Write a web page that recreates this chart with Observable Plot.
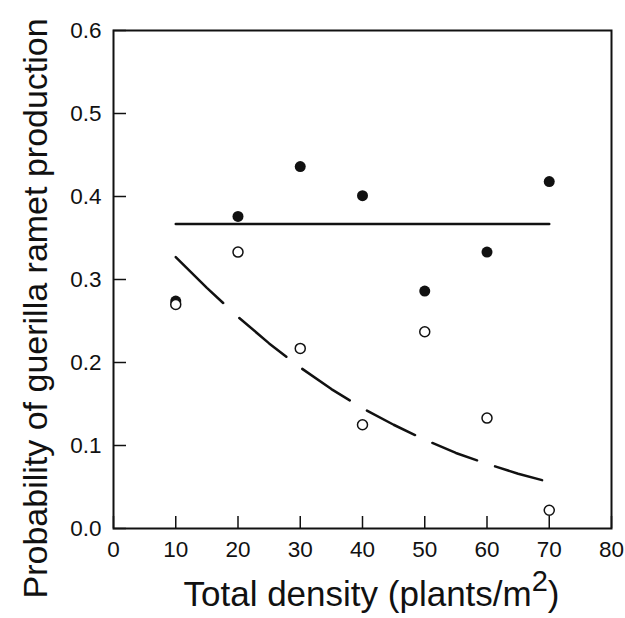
<!DOCTYPE html>
<html>
<head>
<meta charset="utf-8">
<script src="https://cdn.jsdelivr.net/npm/d3@7"></script>
<script src="https://cdn.jsdelivr.net/npm/@observablehq/plot@0.6"></script>
<style>
  html, body { margin: 0; padding: 0; background: white; }
</style>
</head>
<body>
<div id="chart"></div>
<script>
// ---- data ----
const xTicks = [0, 10, 20, 30, 40, 50, 60, 70, 80];
const yTicks = [0, 0.1, 0.2, 0.3, 0.4, 0.5, 0.6];

const density = [10, 20, 30, 40, 50, 60, 70];
const filledProb = [0.274, 0.376, 0.436, 0.401, 0.286, 0.333, 0.418];
const openProb   = [0.270, 0.333, 0.217, 0.125, 0.237, 0.133, 0.022];

const flatX = [10, 70];
const flatY = [0.367, 0.367];

const curveX = [10, 15, 20, 25, 30, 35, 40, 45, 50, 55, 60, 65, 70];
const curveY = [0.327, 0.290, 0.255, 0.223, 0.194, 0.168, 0.145, 0.125, 0.107, 0.091, 0.078, 0.066, 0.056];

const xLabelMain = "Total density (plants/m";
const xLabelSup = "2";
const xLabelEnd = ")";
const yLabel = "Probability of guerilla ramet production";

// ---- tables ----
const filled = density.map((d, i) => ({x: d, y: filledProb[i]}));
const open = density.map((d, i) => ({x: d, y: openProb[i]}));
const flat = flatX.map((d, i) => ({x: d, y: flatY[i]}));
const curve = curveX.map((d, i) => ({x: d, y: curveY[i]}));

const ink = "#111";
const yFmt = d3.format(".1f");

const chart = Plot.plot({
  width: 625,
  height: 618,
  marginLeft: 113,
  marginRight: 14,
  marginTop: 30,
  marginBottom: 90,
  x: {domain: [0, 80]},
  y: {domain: [0, 0.6]},
  style: {fontFamily: "'Liberation Sans', Arial, Helvetica, sans-serif", fontSize: "22px", color: ink, background: "white"},
  marks: [
    Plot.axisX({ticks: xTicks, tickSize: 0, tickPadding: 13, label: null}),
    Plot.axisY({ticks: yTicks, tickSize: 0, tickPadding: 12, tickFormat: yFmt, label: null}),
    Plot.tickX(xTicks, {x: d => d, insetTop: 486, stroke: ink, strokeWidth: 1.5}),
    Plot.tickY(yTicks, {y: d => d, insetRight: 485, stroke: ink, strokeWidth: 1.5}),
    Plot.frame({stroke: ink, strokeWidth: 2}),
    Plot.line(curve, {x: "x", y: "y", stroke: ink, strokeWidth: 2.5,
      strokeDasharray: "66,22,61,20,57,20,54,19,48,19,49,20"}),
    Plot.line(flat, {x: "x", y: "y", stroke: ink, strokeWidth: 2.5}),
    Plot.dot(filled, {x: "x", y: "y", r: 5.5, fill: ink, stroke: "none"}),
    Plot.dot(open, {x: "x", y: "y", r: 5, fill: "white", stroke: ink, strokeWidth: 1.5}),
    Plot.text([xLabelMain + xLabelSup + xLabelEnd], {frameAnchor: "bottom-left", dx: 70, dy: 77,
      textAnchor: "start", lineAnchor: "bottom", fontSize: 35, fill: ink}),
    Plot.text([yLabel], {frameAnchor: "bottom-left", dx: -67, dy: 70, rotate: -90,
      textAnchor: "start", lineAnchor: "bottom", fontSize: 34, fill: ink})
  ]
});

const tickLabelSet = new Set([...xTicks.map(String), ...yTicks.map(yFmt)]);
d3.select(chart).selectAll("text").each(function() {
  const s = this.textContent;
  if (tickLabelSet.has(s)) {
    d3.select(this).style("font-size", "22.5px");
  }
  if (s === xLabelMain + xLabelSup + xLabelEnd) {
    const t = d3.select(this);
    t.text(null);
    t.append("tspan").text(xLabelMain);
    t.append("tspan").attr("dy", -15).attr("font-size", 29).text(xLabelSup);
    t.append("tspan").attr("dy", 15).attr("font-size", 35).text(xLabelEnd);
  }
});

document.getElementById("chart").appendChild(chart);
</script>
</body>
</html>
